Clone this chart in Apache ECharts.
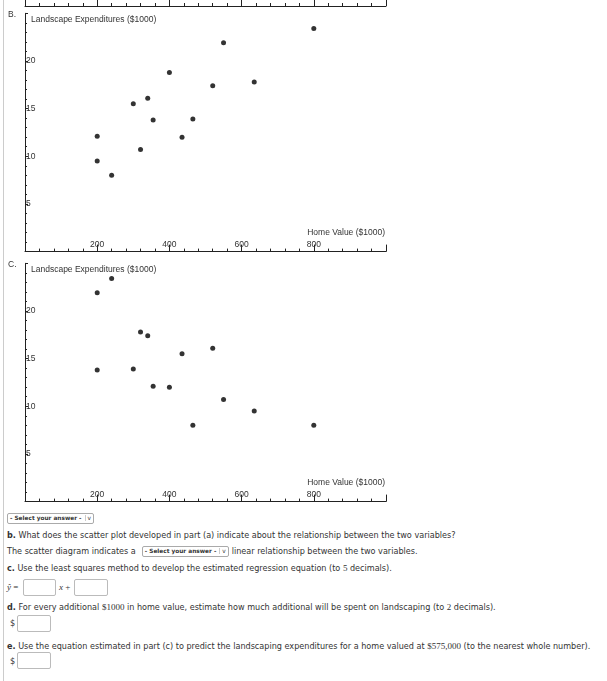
<!DOCTYPE html>
<html>
<head>
<meta charset="utf-8">
<script src="https://cdn.jsdelivr.net/npm/echarts@6/dist/echarts.min.js"></script>
<style>
body { margin: 0; width: 607px; height: 681px; background: #fff; position: relative; overflow: hidden; font-family: "DejaVu Sans", Verdana, sans-serif; color: #333; }
#frame { position: absolute; left: 3px; top: 0; width: 1px; height: 681px; background: #ccc; }
#chart { position: absolute; left: 0; top: 0; width: 607px; height: 510px; }
.part { position: absolute; left: 8px; font-family: "Liberation Sans", Arial, sans-serif; font-size: 8.5px; color: #333; }
.line { position: absolute; left: 7px; font-size: 8.1px; white-space: nowrap; line-height: 10px; }
.sel { display: inline-block; border: 1px solid #aaa; border-radius: 2px; font-size: 5.8px; font-weight: bold; height: 9px; line-height: 9px; padding: 0 2px; vertical-align: middle; background: #fff; }
.sel span { border-left: 1px solid #ccc; margin-left: 3px; padding-left: 2px; font-weight: normal; }
.mid { margin: 0 3px 0 6px; }
.box { position: absolute; border: 1px solid #bbb; border-radius: 2px; background: #fff; }
.m { font-family: "Liberation Serif", "Times New Roman", serif; font-size: 9px; }
</style>
</head>
<body>
<div id="frame"></div>
<div id="chart"></div>
<div class="part" style="top:9px">B.</div>
<div class="part" style="top:259px">C.</div>

<div class="line" style="top:513px"><span class="sel">- Select your answer -<span>v</span></span></div>
<div class="line" style="top:530px"><b>b.</b> What does the scatter plot developed in part (a) indicate about the relationship between the two variables?</div>
<div class="line" style="top:546px">The scatter diagram indicates a<span class="sel mid">- Select your answer -<span>v</span></span>linear relationship between the two variables.</div>
<div class="line" style="top:563px"><b>c.</b> Use the least squares method to develop the estimated regression equation (to <span class="m">5</span> decimals).</div>
<div class="line m" style="top:582px"><i>ŷ</i> =</div>
<div class="box" style="left:23px; top:579px; width:31px; height:15px"></div>
<div class="line m" style="top:582px; left:59px"><i>x</i> +</div>
<div class="box" style="left:74px; top:579px; width:32px; height:15px"></div>
<div class="line" style="top:602px"><b>d.</b> For every additional <span class="m">$1000</span> in home value, estimate how much additional will be spent on landscaping (to <span class="m">2</span> decimals).</div>
<div class="line" style="top:618px; left:10px">$</div>
<div class="box" style="left:17px; top:615px; width:32px; height:15px"></div>
<div class="line" style="top:641px"><b>e.</b> Use the equation estimated in part (c) to predict the landscaping expenditures for a home valued at <span class="m">$575,000</span> (to the nearest whole number).</div>
<div class="line" style="top:656px; left:10px">$</div>
<div class="box" style="left:17px; top:652px; width:32px; height:15px"></div>

<script>
// part B: home value vs landscape expenditures ($1000)
var homeB = [200, 200, 240, 300, 320, 340, 355, 400, 435, 465, 520, 550, 635, 800];
var spendB = [12.1, 9.5, 8.0, 15.5, 10.7, 16.1, 13.8, 18.8, 12.0, 13.9, 17.4, 21.9, 17.8, 23.4];
// part C
var homeC = [200, 200, 240, 300, 320, 340, 355, 400, 435, 465, 520, 550, 635, 800];
var spendC = [21.9, 13.8, 23.4, 13.9, 17.8, 17.4, 12.1, 12.0, 15.5, 8.0, 16.1, 10.7, 9.5, 8.0];
var xTicks = [200, 400, 600, 800];
var yTicks = [5, 10, 15, 20];

var chart = echarts.init(document.getElementById('chart'));
var lbl = { fontFamily: 'Liberation Sans, Arial, sans-serif', fontSize: 8.5, color: '#333' };
var ink = '#222';

function pairs(xs, ys) {
	var out = [];
	for (var i = 0; i < xs.length; i++) out.push([xs[i], ys[i]]);
	return out;
}

function xAxisFor(g, labels) {
	return {
		type: 'value', gridIndex: g, min: 0, max: 1000, interval: 200,
		position: labels ? 'bottom' : 'top',
		splitLine: { show: false },
		axisLine: { lineStyle: { color: ink, width: 1 } },
		axisTick: { inside: labels, length: 7, lineStyle: { color: ink } },
		minorTick: { show: true, splitNumber: 5, length: 3, lineStyle: { color: ink } },
		axisLabel: {
			show: labels, inside: true, margin: 2,
			fontFamily: lbl.fontFamily, fontSize: lbl.fontSize, color: lbl.color,
			formatter: function (v) { return xTicks.indexOf(v) >= 0 ? String(v) : ''; }
		},
		name: labels ? 'Home Value ($1000)' : '',
		nameLocation: 'end', nameGap: -1,
		nameTextStyle: {
			fontFamily: lbl.fontFamily, fontSize: lbl.fontSize, color: lbl.color,
			align: 'right', verticalAlign: 'bottom', padding: [0, 0, 14, 0]
		}
	};
}

function yAxisFor(g, show) {
	return {
		type: 'value', gridIndex: g, min: 0, max: 25, interval: 5, show: show,
		splitLine: { show: false },
		axisLine: { lineStyle: { color: ink, width: 1 } },
		axisTick: { inside: true, length: 3, lineStyle: { color: ink } },
		minorTick: { show: true, splitNumber: 5, length: 2, lineStyle: { color: ink } },
		axisLabel: {
			inside: true, margin: 1,
			fontFamily: lbl.fontFamily, fontSize: lbl.fontSize, color: lbl.color,
			formatter: function (v) { return yTicks.indexOf(v) >= 0 ? String(v) : ''; }
		},
		name: 'Landscape Expenditures ($1000)',
		nameLocation: 'end', nameGap: 0,
		nameTextStyle: {
			fontFamily: lbl.fontFamily, fontSize: lbl.fontSize, color: lbl.color,
			align: 'left', verticalAlign: 'top', padding: [2, 0, 0, 6]
		}
	};
}

var option = {
	animation: false,
	grid: [
		// bottom edge of the part A plot, cut off at the top of the page
		{ left: 25, top: 1, width: 361, height: 5 },
		{ left: 25, top: 13.3, width: 361, height: 238.3 },
		{ left: 25, top: 263.3, width: 361, height: 238.3 }
	],
	xAxis: [xAxisFor(0, false), xAxisFor(1, true), xAxisFor(2, true)],
	yAxis: [yAxisFor(0, false), yAxisFor(1, true), yAxisFor(2, true)],
	series: [
		{ type: 'scatter', xAxisIndex: 1, yAxisIndex: 1, symbolSize: 5, itemStyle: { color: '#000' }, data: pairs(homeB, spendB) },
		{ type: 'scatter', xAxisIndex: 2, yAxisIndex: 2, symbolSize: 5, itemStyle: { color: '#000' }, data: pairs(homeC, spendC) }
	]
};
chart.setOption(option);
</script>
</body>
</html>
